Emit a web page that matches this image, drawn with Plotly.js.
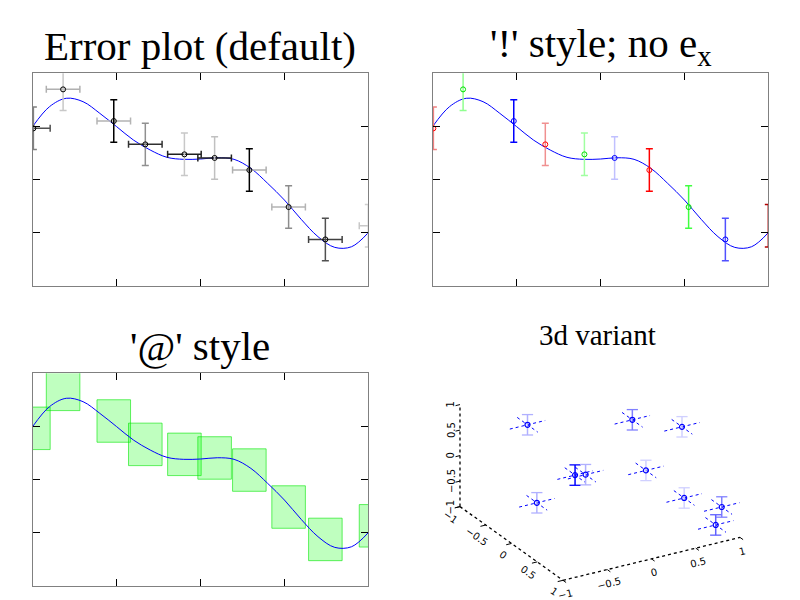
<!DOCTYPE html>
<html>
<head>
<meta charset="utf-8">
<script src="https://cdn.plot.ly/plotly-3.0.1.min.js"></script>
<style>html,body{margin:0;padding:0;background:#fff;}#plot{width:800px;height:600px;}</style>
</head>
<body>
<div id="plot"></div>
<script>
// ---- data ----
const curveX = [-1,-0.9,-0.8,-0.7,-0.6,-0.5,-0.4,-0.3,-0.2,-0.1,0,0.1,0.2,0.3,0.4,0.5,0.6,0.7,0.8,0.9,1];
const curveY = [0.5,0.686,0.765,0.733,0.623,0.498,0.372,0.278,0.209,0.19,0.193,0.205,0.19,0.105,-0.036,-0.193,-0.375,-0.538,-0.639,-0.633,-0.5];

const x0  = [-0.996,-0.819,-0.517,-0.329,-0.096,0.084,0.291,0.525,0.744,1.046];
const y0  = [0.482,0.849,0.551,0.331,0.237,0.203,0.089,-0.259,-0.564,-0.436];
const ex0 = [0.1,0.1,0.1,0.1,0.1,0.1,0.1,0.1,0.1,0.1];
const ey0 = [0.2,0.2,0.2,0.2,0.2,0.2,0.2,0.2,0.2,0.2];

// shades of the bars in the default panel
const vShade = ['#808080','#c8c8c8','#000000','#909090','#c8c8c8','#c0c0c0','#000000','#8c8c8c','#505050','#d0d0d0'];
const hShade = ['#505050','#b0b0b0','#b4b4b4','#303030','#202020','#202020','#b0b0b0','#b4b4b4','#404040','#c8c8c8'];
// '!' style colours
const bangBar  = ['#f08080','#90ff90','#0000ff','#f09090','#a0ffa0','#c0c0ff','#ff0000','#40ff40','#5050ff','#b00000'];
const bangMark = ['#ff0000','#00e000','#0000ff','#ff0000','#00e000','#0000ff','#ff0000','#00e000','#0000ff','#ff0000'];

// 3d variant points (x, y, z) and their error
const p3x = [-0.47,0.54,0.81,-0.34,0.07,0.81,-0.83,0.66,0.91,0.90];
const p3y = [-0.6,-0.3,0.2,0.1,-0.4,-0.5,0.2,0.5,0.8,0.7];
const p3z = [0.67,0.56,0.67,0.135,-0.39,-0.69,-0.13,-0.445,-0.51,-0.93];
const e3  = 0.2;
const zShade = ['#b0b0ff','#8080ff','#d0d0ff','#0000ff','#b0b0ff','#d0d0ff','#b0b0ff','#d0d0ff','#8080ff','#6060ff'];

const tickV = [-1,-0.5,0,0.5,1];
const tickT = ['\u22121','\u22120.5','0','0.5','1'];

// ---- view of the 3d panel (orthographic, rotated) ----
const view = {phi: 30.2*Math.PI/180, tilt: 24.6*Math.PI/180, scale: 102.4, zAspect: 0.548};
function proj(b, a, z){
  const c = Math.cos(view.phi), s = Math.sin(view.phi), st = Math.sin(view.tilt), ct = Math.cos(view.tilt);
  return [view.scale*(c*b + s*a), view.scale*(s*st*b - c*st*a + view.zAspect*ct*z)];
}

// ---- build traces ----
const traces = [];
const clamp = v => Math.max(-1, Math.min(1, v));

function curve(xa, ya){
  return {x: curveX, y: curveY, xaxis: xa, yaxis: ya, mode:'lines', type:'scatter',
          line:{color:'#0000ff', width:1, shape:'spline'}, hoverinfo:'skip'};
}

// panel 1: default
traces.push(curve('x','y'));
for (let i=0;i<x0.length;i++){
  traces.push({x:[x0[i]], y:[y0[i]], xaxis:'x', yaxis:'y', type:'scatter', mode:'markers',
    marker:{size:0.1, opacity:0},
    error_x:{type:'data', array:[ex0[i]], color:hShade[i], thickness:1.5, width:3.5}});
  const inside = x0[i] <= 1 && x0[i] >= -1;
  traces.push({x:[clamp(x0[i])], y:[y0[i]], xaxis:'x', yaxis:'y', type:'scatter', mode:'markers',
    marker:{symbol:'circle-open', size:5, color:'#000', line:{width:1}, opacity: inside?1:0},
    error_y:{type:'data', array:[ey0[i]], color:vShade[i], thickness:1.5, width:3.5}});
}

// panel 2: '!' style, no ex
traces.push(curve('x2','y2'));
for (let i=0;i<x0.length;i++){
  const inside = x0[i] <= 1 && x0[i] >= -1;
  traces.push({x:[clamp(x0[i])], y:[y0[i]], xaxis:'x2', yaxis:'y2', type:'scatter', mode:'markers',
    marker:{symbol:'circle-open', size:5, color:bangMark[i], line:{width:1}, opacity: inside?1:0},
    error_y:{type:'data', array:[ey0[i]], color:bangBar[i], thickness:1.5, width:3.5}});
}

// panel 3: '@' style boxes
for (let i=0;i<x0.length;i++){
  const l = x0[i]-ex0[i], r = x0[i]+ex0[i], b = y0[i]-ey0[i], t = y0[i]+ey0[i];
  traces.push({x:[l,r,r,l,l], y:[b,b,t,t,b], xaxis:'x3', yaxis:'y3', type:'scatter', mode:'lines',
    fill:'toself', fillcolor:'rgba(0,255,0,0.25)', line:{color:'rgba(0,230,0,0.6)', width:1}, hoverinfo:'skip'});
}
traces.push(curve('x3','y3'));

// panel 4: 3d variant drawn through the projection
function seg(p, q){ return [p, q]; }
function addPath(list, pts){ list.push(...pts, [null,null]); }
// axes
const axisPaths = [];
addPath(axisPaths, [proj(-1,1,-1), proj(1,1,-1)]);     // x axis (front right edge)
addPath(axisPaths, [proj(-1,-1,-1), proj(-1,1,-1)]);   // y axis (front left edge)
addPath(axisPaths, [proj(-1,-1,-1), proj(-1,-1,1)]);   // z axis (back vertical)
traces.push({x:axisPaths.map(p=>p[0]), y:axisPaths.map(p=>p[1]), xaxis:'x4', yaxis:'y4', type:'scatter', mode:'lines',
  line:{color:'#000', width:1.3, dash:'dot'}, hoverinfo:'skip'});
// tick marks
const tickPaths = [];
for (const v of tickV){
  addPath(tickPaths, [proj(v,1,-1), proj(v,1.06,-1)]);
  addPath(tickPaths, [proj(-1,v,-1), proj(-1.06,v,-1)]);
  addPath(tickPaths, [proj(-1,-1,v), proj(-1.05,-1,v)]);
}
traces.push({x:tickPaths.map(p=>p[0]), y:tickPaths.map(p=>p[1]), xaxis:'x4', yaxis:'y4', type:'scatter', mode:'lines',
  line:{color:'#000', width:1}, hoverinfo:'skip'});
// horizontal error bars (x and y directions)
const hb = [];
const capPts = [];
for (let i=0;i<p3x.length;i++){
  addPath(hb, [proj(p3x[i]-e3,p3y[i],p3z[i]), proj(p3x[i]+e3,p3y[i],p3z[i])]);
  addPath(hb, [proj(p3x[i],p3y[i]-e3,p3z[i]), proj(p3x[i],p3y[i]+e3,p3z[i])]);
}
traces.push({x:hb.map(p=>p[0]), y:hb.map(p=>p[1]), xaxis:'x4', yaxis:'y4', type:'scatter', mode:'lines',
  line:{color:'#0000ff', width:1, dash:'dot'}, hoverinfo:'skip'});
// vertical (z) error bars with caps
for (let i=0;i<p3x.length;i++){
  const lo = proj(p3x[i],p3y[i],p3z[i]-e3), hi = proj(p3x[i],p3y[i],p3z[i]+e3);
  traces.push({x:[lo[0],hi[0]], y:[lo[1],hi[1]], xaxis:'x4', yaxis:'y4', type:'scatter', mode:'lines+markers',
    line:{color:zShade[i], width:1.5}, marker:{symbol:'line-ew-open', size:8, color:zShade[i], line:{width:1.3, color:zShade[i]}},
    hoverinfo:'skip'});
}
// markers
const pc = p3x.map((v,i)=>proj(p3x[i],p3y[i],p3z[i]));
traces.push({x:pc.map(p=>p[0]), y:pc.map(p=>p[1]), xaxis:'x4', yaxis:'y4', type:'scatter', mode:'markers',
  marker:{symbol:'circle-open', size:5, color:'#0000ff', line:{width:1.2}}, hoverinfo:'skip'});

// ---- axes ----
function box2d(dom, anchor){
  return {domain:dom, anchor:anchor, range:[-1,1], showgrid:false, zeroline:false, showline:true, linecolor:'#808080', linewidth:1,
          mirror:'ticks', ticks:'inside', ticklen:7, tickwidth:1.2, tickcolor:'#000',
          tickvals:[-0.5,0,0.5], showticklabels:false, fixedrange:true};
}
function hidden(dom, anchor, range){
  return {domain:dom, anchor:anchor, range:range, visible:false, showgrid:false, zeroline:false, fixedrange:true};
}

const titleFont = {family:'Liberation Serif, Times New Roman, serif', size:41, color:'#000'};
const tickFont = {family:'DejaVu Sans, sans-serif', size:10, color:'#000'};
const annotations = [
  {text:'Error plot (default)', x:0.25, y:1-46/600, xanchor:'center', yanchor:'middle', xref:'paper', yref:'paper', showarrow:false, font:titleFont},
  {text:"'!' style; no e<sub>x</sub>", x:0.751, y:1-46/600, xanchor:'center', yanchor:'middle', xref:'paper', yref:'paper', showarrow:false, font:titleFont},
  {text:"'@' style", x:0.25, y:1-346/600, xanchor:'center', yanchor:'middle', xref:'paper', yref:'paper', showarrow:false, font:titleFont},
  {text:'3d variant', x:0.747, y:1-335/600, xanchor:'center', yanchor:'middle', xref:'paper', yref:'paper', showarrow:false,
   font:{family:'Liberation Serif, Times New Roman, serif', size:29, color:'#000'}}
];
// 3d tick labels, placed along the projected axes
tickV.forEach((v,k)=>{
  const px = proj(v,1,-1), py = proj(-1,v,-1), pz = proj(-1,-1,v);
  annotations.push({text:tickT[k], x:px[0], y:px[1], xref:'x4', yref:'y4', showarrow:false, xshift:2, yshift:-14,
    textangle:-14, font:tickFont});
  annotations.push({text:tickT[k], x:py[0], y:py[1], xref:'x4', yref:'y4', showarrow:false, xshift:-9, yshift:-11,
    textangle:35, font:tickFont});
  annotations.push({text:tickT[k], x:pz[0], y:pz[1], xref:'x4', yref:'y4', showarrow:false, xshift:-9, yshift:0,
    textangle:-90, font:tickFont});
});

const layout = {
  width:800, height:600, margin:{l:0,r:0,t:0,b:0}, paper_bgcolor:'#fff', plot_bgcolor:'rgba(0,0,0,0)', showlegend:false,
  xaxis: box2d([0.0409,0.4604],'y'), yaxis: box2d([0.5238,0.8778],'x'),
  xaxis2: box2d([0.5409,0.9604],'y2'), yaxis2: box2d([0.5238,0.8778],'x2'),
  xaxis3: box2d([0.0409,0.4604],'y3'), yaxis3: box2d([0.0238,0.3778],'x3'),
  xaxis4: hidden([0.5,1.0],'y4',[-200,200]), yaxis4: hidden([0.0,0.5],'x4',[-129,171]),
  annotations: annotations
};

Plotly.newPlot('plot', traces, layout, {displayModeBar:false, staticPlot:true});
</script>
</body>
</html>
